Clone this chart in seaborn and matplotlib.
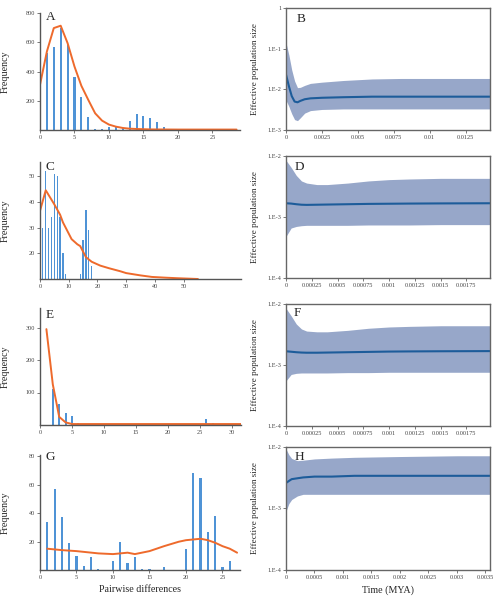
import numpy as np
import matplotlib
matplotlib.use("Agg")
import matplotlib.pyplot as plt
import seaborn as sns

# ---- mismatch distributions (left column) ----
a_diff = list(range(0, 21))
a_freq = [263, 526, 567, 697, 583, 359, 229, 91, 9, 5, 21, 21, 14, 62, 110, 96, 82, 55, 23, 9, 4]
a_exp_x = [0, 1, 2, 3, 4, 5, 6, 7, 8, 9, 10, 11, 12, 13, 14, 16, 20, 28.5]
a_exp_y = [309, 537, 697, 713, 594, 434, 302, 206, 114, 64, 37, 23, 14, 9, 7, 4, 3, 3]

c_diff = [1, 2, 3, 4, 5, 6, 7, 8, 9, 14, 15, 16, 17, 18]
c_freq = [30, 52, 30, 34, 51, 50, 34, 20, 12, 12, 25, 37, 29, 15]
c_exp_x = [0, 2, 5, 7, 8, 11, 13, 14, 16, 18, 21, 24, 28, 30, 35, 39, 44, 48, 55]
c_exp_y = [36.5, 44.5, 39, 35, 32, 25.5, 23.5, 22.8, 18.5, 16.7, 15.2, 14.2, 13, 12.3, 11.4, 10.8, 10.5, 10.3, 10.0]

e_diff = [2, 3, 4, 5, 6, 26, 27]
e_freq = [110, 66, 38, 27, 7, 17, 7]
e_exp_x = [1, 2, 3, 4, 5, 6, 10, 20, 31.4]
e_exp_y = [295, 125, 25, 8, 3, 3, 3, 3, 3]

g_diff = [1, 2, 3, 4, 5, 6, 7, 8, 10, 11, 12, 13, 14, 15, 17, 20, 21, 22, 23, 24, 25, 26]
g_freq = [34, 57, 37, 19, 10, 3, 9, 1, 6, 20, 5, 9, 1, 1, 2, 15, 68, 65, 27, 38, 2, 6]
g_exp_x = [1, 3, 5, 8, 10, 12, 13, 15, 17, 19, 20, 22, 23, 24, 25, 26, 27]
g_exp_y = [15, 14, 13.3, 11.7, 11.2, 12.2, 11.2, 13.3, 16.8, 19.9, 21, 22, 21, 19.2, 16.8, 15, 12.2]

# ---- skyline plots (right column) ----
b_time = [0, 0.0002, 0.0004, 0.0006, 0.0008, 0.001, 0.0013, 0.0017, 0.0025, 0.004, 0.006, 0.008, 0.0142]
b_median = [0.023, 0.012, 0.0068, 0.005, 0.0048, 0.0052, 0.0057, 0.006, 0.0062, 0.0064, 0.0066, 0.0066, 0.0066]
b_upper = [0.14, 0.07, 0.03, 0.016, 0.011, 0.0112, 0.0125, 0.014, 0.015, 0.0165, 0.018, 0.0185, 0.0185]
b_lower = [0.0054, 0.0038, 0.0025, 0.0018, 0.0017, 0.002, 0.0026, 0.003, 0.0032, 0.0033, 0.0033, 0.0033, 0.0033]

d_time = [0, 0.00005, 0.0001, 0.00015, 0.0002, 0.0003, 0.0004, 0.0006, 0.0008, 0.001, 0.0012, 0.0015, 0.00198]
d_median = [0.00168, 0.00166, 0.00162, 0.00159, 0.00158, 0.00159, 0.0016, 0.00162, 0.00164, 0.00165, 0.00166, 0.00167, 0.00168]
d_upper = [0.0085, 0.0065, 0.0048, 0.0039, 0.0036, 0.0034, 0.0034, 0.0036, 0.0039, 0.0041, 0.0042, 0.0043, 0.0043]
d_lower = [0.00048, 0.00066, 0.0007, 0.00072, 0.00073, 0.00073, 0.00073, 0.00073, 0.00074, 0.00074, 0.00074, 0.00075, 0.00075]

f_time = [0, 0.00005, 0.0001, 0.00015, 0.0002, 0.0003, 0.0004, 0.0006, 0.0008, 0.001, 0.0012, 0.0015, 0.00198]
f_median = [0.00168, 0.00165, 0.00162, 0.0016, 0.00159, 0.00159, 0.0016, 0.00162, 0.00164, 0.00166, 0.00167, 0.00168, 0.00169]
f_upper = [0.0085, 0.0064, 0.0047, 0.0039, 0.0036, 0.0035, 0.0035, 0.0037, 0.004, 0.0042, 0.0043, 0.0044, 0.0044]
f_lower = [0.00055, 0.0007, 0.00073, 0.00074, 0.00074, 0.00074, 0.00074, 0.00075, 0.00075, 0.00076, 0.00076, 0.00076, 0.00076]

h_time = [0, 0.00005, 0.0001, 0.0002, 0.0003, 0.0005, 0.0008, 0.0012, 0.002, 0.003, 0.00358]
h_median = [0.0026, 0.0028, 0.003, 0.0031, 0.0032, 0.0033, 0.0033, 0.0034, 0.0034, 0.0034, 0.0034]
h_upper = [0.0093, 0.0075, 0.0065, 0.006, 0.0061, 0.0064, 0.0066, 0.0068, 0.007, 0.0072, 0.0072]
h_lower = [0.0009, 0.0012, 0.0014, 0.0016, 0.0017, 0.0017, 0.0017, 0.0017, 0.0017, 0.0017, 0.0017]

sns.set_theme(style="ticks")
plt.rcParams["font.family"] = ["Liberation Serif", "DejaVu Serif"]

bar_color = "#4F93D6"
exp_color = "#EE6A2C"
band_color = "#97A7C9"
med_color = "#1D5C9A"

fig = plt.figure(figsize=(5, 6), dpi=100)


def px_axes(l, r, t, b):
    return fig.add_axes([l / 500, 1 - b / 600, (r - l) / 500, (b - t) / 600])


def mismatch(ax, diff, freq, ex, ey, xlim, ylim, yticks, xticks, bw=0.3):
    sns.barplot(x=diff, y=freq, native_scale=True, color=bar_color, saturation=1,
                width=bw, errorbar=None, linewidth=0, ax=ax)
    sns.lineplot(x=ex, y=ey, color=exp_color, lw=1.4, ax=ax)
    ax.set_xlim(*xlim)
    ax.set_ylim(*ylim)
    ax.set_yticks(yticks)
    ax.set_xticks(xticks)
    ax.set_xticklabels([str(t) for t in xticks])
    ax.set_yticklabels([str(t) for t in yticks])
    for s in ["top", "right"]:
        ax.spines[s].set_visible(False)
    for s in ["left", "bottom"]:
        ax.spines[s].set_color("#555555")
        ax.spines[s].set_linewidth(1.0)
    ax.tick_params(labelsize=4.5, length=2, width=0.5, pad=1.5, colors="#444444")
    ax.set_ylabel("Frequency", fontsize=7.2)
    ax.set_xlabel("")


def skyline(ax, t, med, lo, hi, xlim, ylim, yticks, ylabels, xticks, xlabels):
    ax.fill_between(t, lo, hi, color=band_color, lw=0)
    sns.lineplot(x=t, y=med, color=med_color, lw=1.5, ax=ax)
    ax.set_yscale("log")
    ax.set_xlim(*xlim)
    ax.set_ylim(*ylim)
    ax.set_yticks(yticks)
    ax.set_yticklabels(ylabels)
    ax.minorticks_off()
    ax.set_xticks(xticks)
    ax.set_xticklabels(xlabels)
    for s in ax.spines.values():
        s.set_color("#666666")
        s.set_linewidth(1.0)
    ax.tick_params(labelsize=4.5, length=2, width=0.5, pad=1.5, colors="#444444")
    ax.set_ylabel("Effective population size", fontsize=6.6)
    ax.set_xlabel("")


axA = px_axes(40, 240, 13, 130)
mismatch(axA, a_diff, a_freq, a_exp_x, a_exp_y, (0, 29), (0, 800),
         [200, 400, 600, 800], [0, 5, 10, 15, 20, 25])
axC = px_axes(40, 241, 162, 279)
mismatch(axC, c_diff, c_freq, c_exp_x, c_exp_y, (0, 70), (10, 55.5),
         [20, 30, 40, 50], [0, 10, 20, 30, 40, 50], bw=0.42)
axE = px_axes(40, 241, 308, 425)
mismatch(axE, e_diff, e_freq, e_exp_x, e_exp_y, (0.5, 31.4), (0, 360),
         [100, 200, 300], [0, 5, 10, 15, 20, 25, 30])
axG = px_axes(40, 240, 455, 570)
mismatch(axG, g_diff, g_freq, g_exp_x, g_exp_y, (0.4, 27.4), (0, 81),
         [20, 40, 60, 80], [0, 5, 10, 15, 20, 25])
axG.set_xlabel("Pairwise differences", fontsize=7.2, labelpad=4)

axB = px_axes(286, 490, 8, 130)
skyline(axB, b_time, b_median, b_lower, b_upper, (0, 0.0142), (1e-3, 1),
        [1e-3, 1e-2, 1e-1, 1], ["1.E-3", "1.E-2", "1.E-1", "1"],
        [0, 0.0025, 0.005, 0.0075, 0.01, 0.0125],
        ["0", "0.0025", "0.005", "0.0075", "0.01", "0.0125"])
d_ticks = [0, 0.00025, 0.0005, 0.00075, 0.001, 0.00125, 0.0015, 0.00175]
d_labels = ["0", "0.00025", "0.0005", "0.00075", "0.001", "0.00125", "0.0015", "0.00175"]
axD = px_axes(286, 490, 156, 278)
skyline(axD, d_time, d_median, d_lower, d_upper, (0, 0.00198), (1e-4, 1e-2),
        [1e-4, 1e-3, 1e-2], ["1.E-4", "1.E-3", "1.E-2"], d_ticks, d_labels)
axF = px_axes(286, 490, 304, 426)
skyline(axF, f_time, f_median, f_lower, f_upper, (0, 0.00198), (1e-4, 1e-2),
        [1e-4, 1e-3, 1e-2], ["1.E-4", "1.E-3", "1.E-2"], d_ticks, d_labels)
axH = px_axes(286, 490, 447, 570)
skyline(axH, h_time, h_median, h_lower, h_upper, (0, 0.00358), (1e-4, 1e-2),
        [1e-4, 1e-3, 1e-2], ["1.E-4", "1.E-3", "1.E-2"],
        [0, 0.0005, 0.001, 0.0015, 0.002, 0.0025, 0.003, 0.0035],
        ["0", "0.0005", "0.001", "0.0015", "0.002", "0.0025", "0.003", "0.0035"])
axH.set_xlabel("Time (MYA)", fontsize=7.2, labelpad=4)

# align y labels
for ax in [axA, axC, axE, axG]:
    ax.yaxis.set_label_coords(-0.15, 0.5)
for ax in [axB, axD, axF, axH]:
    ax.yaxis.set_label_coords(-0.13, 0.5)

letters = [("A", 51, 17), ("B", 301, 19), ("C", 50, 167), ("D", 299, 167),
           ("E", 50, 315), ("F", 297, 313), ("G", 50, 457), ("H", 299, 457)]
for lab, x, y in letters:
    fig.text(x / 500, 1 - y / 600, lab, fontsize=9.5, ha="center", va="center")

fig.savefig("out.png", dpi=100)
